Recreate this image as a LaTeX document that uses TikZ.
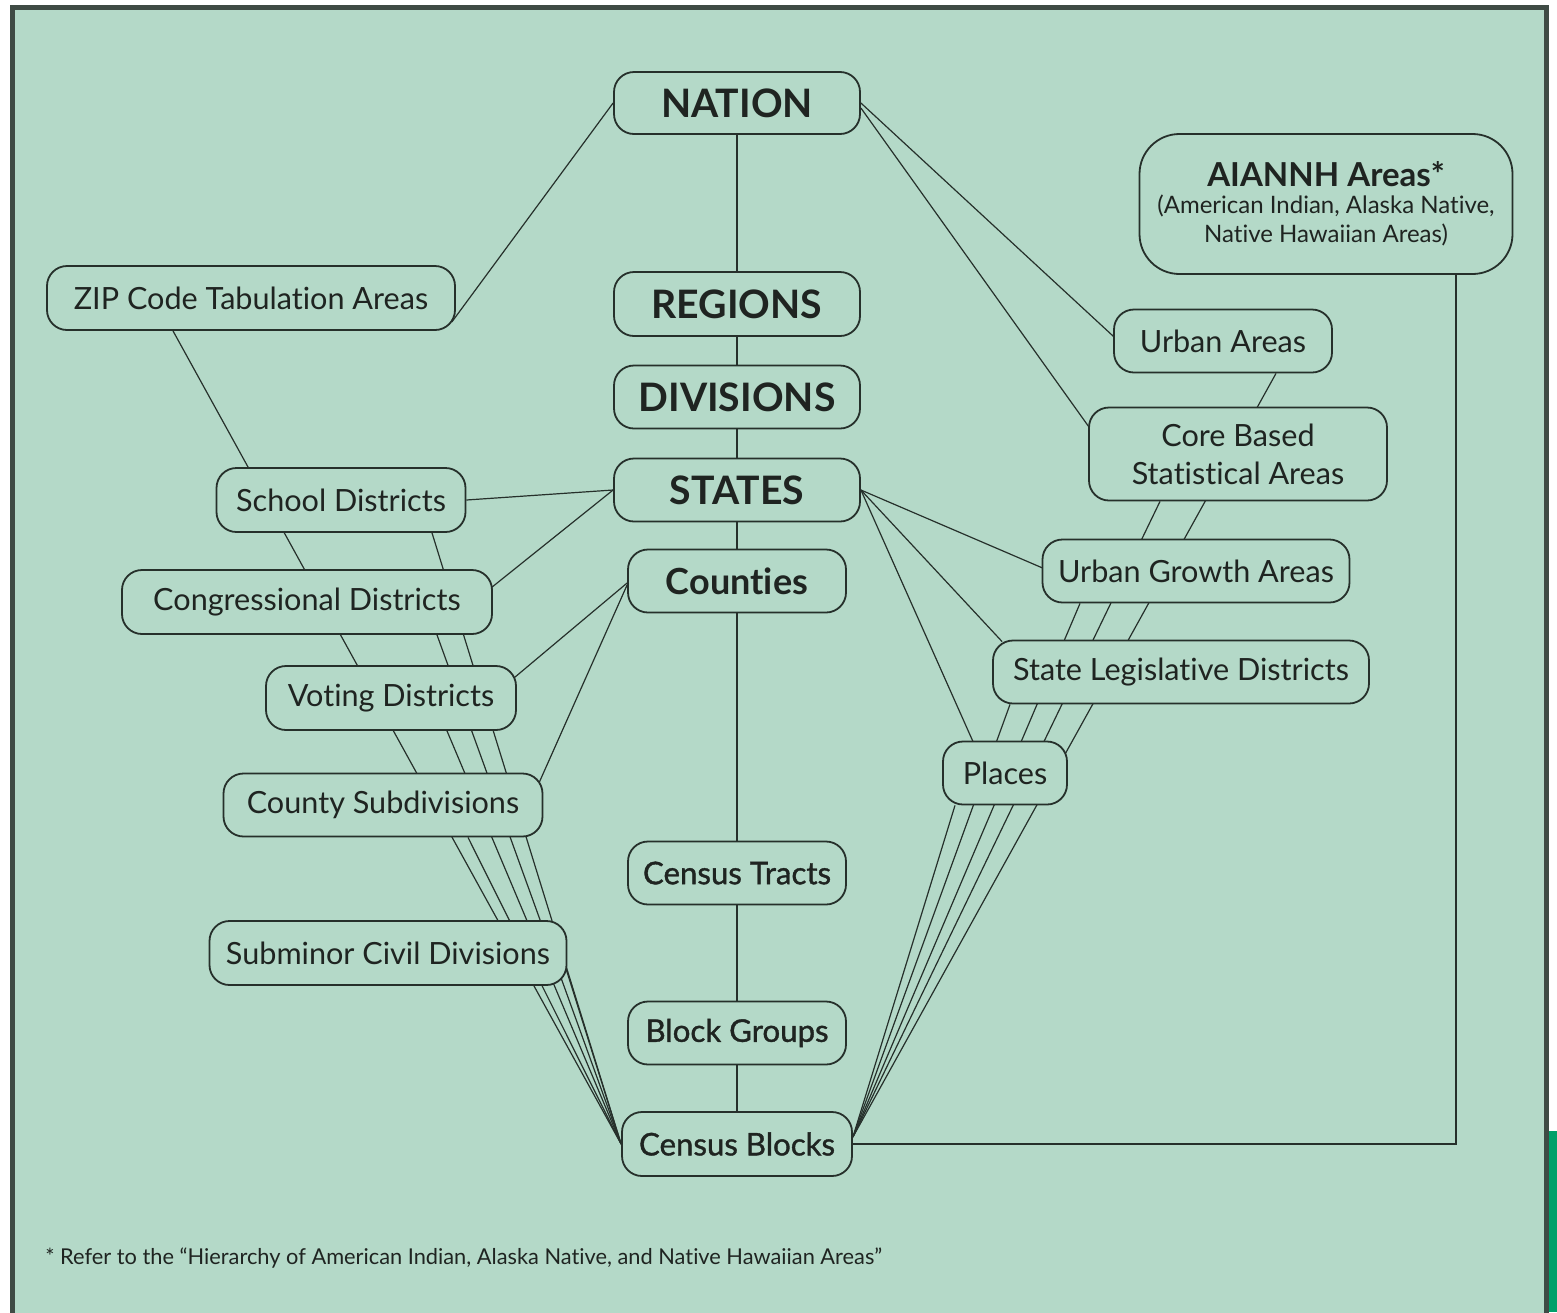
\documentclass[tikz,border=0pt]{standalone}
\usepackage{fontspec}
\setmainfont{Lato}[Ligatures={NoCommon}]
\newfontfamily\medfont{Lato}[FakeBold=1.2,Ligatures={NoCommon}]
\usetikzlibrary{calc}
\definecolor{mint}{HTML}{B4D9C8}
\definecolor{framec}{HTML}{3F4B45}
\definecolor{linec}{HTML}{26302B}
\definecolor{txt}{HTML}{1F2421}
\definecolor{greenbar}{HTML}{00A06A}
\pgfdeclarelayer{back}
\pgfdeclarelayer{links}
\pgfsetlayers{back,links,main}
\begin{document}
\begin{tikzpicture}[x=0.5pt,y=-0.5pt,
  box/.style={draw=linec, fill=mint, rounded corners=10pt, line width=0.9pt,
    inner sep=0pt, text=txt, align=center, font=\fontsize{15.3}{19}\selectfont},
  sz/.style 2 args={minimum width=#1*0.5pt, minimum height=#2*0.5pt},
  bigb/.style={font=\fontsize{19.6}{23}\selectfont\bfseries},
  midb/.style={font=\fontsize{18}{21}\selectfont\bfseries},
  med/.style={font=\fontsize{15.6}{19}\selectfont\medfont},
  link/.style={draw=linec, line width=0.6pt}]
\useasboundingbox (0,0) rectangle (1557,1312);
\begin{pgfonlayer}{back}
  \fill[white] (0,0) rectangle (1557,1312);
  \draw[fill=mint, draw=framec, line width=2.5pt] (12.5,7.5) rectangle (1546,1330);
  \fill[greenbar] (1549,1131) rectangle (1557,1312);
\end{pgfonlayer}

% central column
\node[box, sz={246}{62}, bigb] (nation) at (737,103) {NATION};
\node[box, sz={246}{64}, bigb] (regions) at (737,304) {REGIONS};
\node[box, sz={246}{63}, bigb] (divisions) at (737,397) {DIVISIONS};
\node[box, sz={246}{63}, bigb] (states) at (737,490) {STATES};
\node[box, sz={218}{63}, midb] (counties) at (737,581) {Counties};
\node[box, sz={218}{63}, med] (tracts) at (737,873) {Census Tracts};
\node[box, sz={218}{63}, med] (bgroups) at (737,1033) {Block Groups};
\node[box, sz={230}{64}, med] (cblocks) at (737,1144) {Census Blocks};

% left column
\node[box, sz={408}{64}] (zip) at (251,298) {ZIP Code Tabulation Areas};
\node[box, sz={249}{64}] (school) at (341,500) {School Districts};
\node[box, sz={370}{64}] (congress) at (307,602) {Congressional Districts};
\node[box, sz={250}{64}] (voting) at (391,698) {Voting Districts};
\node[box, sz={319}{63}] (countysub) at (383,805) {County Subdivisions};
\node[box, sz={357}{64}] (subminor) at (388,953) {Subminor Civil Divisions};

% right column
\node[box, sz={373}{140}, rounded corners=20pt] (aiannh) at (1326,204)
  {\fontsize{16.5}{19}\selectfont\bfseries AIANNH Areas*\\[-5.5pt]
   \fontsize{12}{14}\selectfont\mdseries (American Indian, Alaska Native,\\[-4.5pt]
   \fontsize{12}{14}\selectfont\mdseries Native Hawaiian Areas)};
\node[box, sz={218}{63}] (urban) at (1223,341) {Urban Areas};
\node[box, sz={298}{93}] (cbsa) at (1238,454) {Core Based\\Statistical Areas};
\node[box, sz={307}{63}] (uga) at (1196,571) {Urban Growth Areas};
\node[box, sz={376}{63}] (sld) at (1181,672) {State Legislative Districts};
\node[box, sz={124}{63}] (places) at (1005,773) {Places};

% footnote
\node[anchor=base west, inner sep=0pt, text=txt, font=\fontsize{10.9}{12}\selectfont] (note) at (45,1264)
  {* Refer to the “Hierarchy of American Indian, Alaska Native, and Native Hawaiian Areas”};

\begin{pgfonlayer}{links}
  % central chain
  \draw[link] (nation) -- (regions) -- (divisions) -- (states) -- (counties) -- (tracts) -- (bgroups) -- (cblocks);
  % nation links
  \draw[link] (nation.west) -- ($(zip.south east)+(-4,-9)$);
  \draw[link] (nation.east) -- ($(urban.west)+(1,-4)$);
  \draw[link] ($(nation.east)+(0,5)$) -- ($(cbsa.west)+(3,-24)$);
  % states links
  \draw[link] (states.west) -- (school.east);
  \draw[link] (states.west) -- ($(congress.east)+(-2,-14)$);
  \draw[link] (states.east) -- ($(uga.west)+(1,-3)$);
  \draw[link] (states.east) -- ($(sld.north west)+(10,2)$);
  \draw[link] (states.east) -- ($(places.north)+(-32,1)$);
  % counties links
  \draw[link] ($(counties.west)+(0,2)$) -- ($(voting.east)+(-3,-20)$);
  \draw[link] ($(counties.west)+(0,4)$) -- ($(countysub.east)+(-4,-23)$);
  % county subdivisions -- subminor
  \draw[link] ($(countysub.south)+(-32,0)$) -- ($(countysub.south)+(-32,0)$ |- subminor.north);
  % left fan into census blocks
  \draw[link] ($(zip.south)+(-78,0)$) -- (cblocks.west);
  \draw[link] ($(school.south)+(91,0)$) -- (cblocks.west);
  \draw[link] ($(congress.south)+(130,0)$) -- (cblocks.west);
  \draw[link] ($(voting.south)+(56,0)$) -- (cblocks.west);
  \draw[link] ($(countysub.south)+(85,0)$) -- (cblocks.west);
  \draw[link] ($(subminor.east)+(-1,17)$) -- (cblocks.west);
  % right fan into census blocks
  \coordinate (cbe) at ($(cblocks.east)+(0,-7)$);
  \draw[link] ($(urban.south)+(53,0)$) -- (cbe);
  \draw[link] ($(cbsa.south)+(-78,0)$) -- (cbe);
  \draw[link] ($(uga.south)+(-116,0)$) -- (cbe);
  \draw[link] ($(sld.south)+(-171,0)$) -- (cbe);
  \draw[link] ($(places.south)+(-50,0)$) -- (cbe);
  % AIANNH
  \draw[link, line width=0.9pt] (cblocks.east) -| ($(aiannh.south)+(130,0)$);
\end{pgfonlayer}
\end{tikzpicture}
\end{document}
